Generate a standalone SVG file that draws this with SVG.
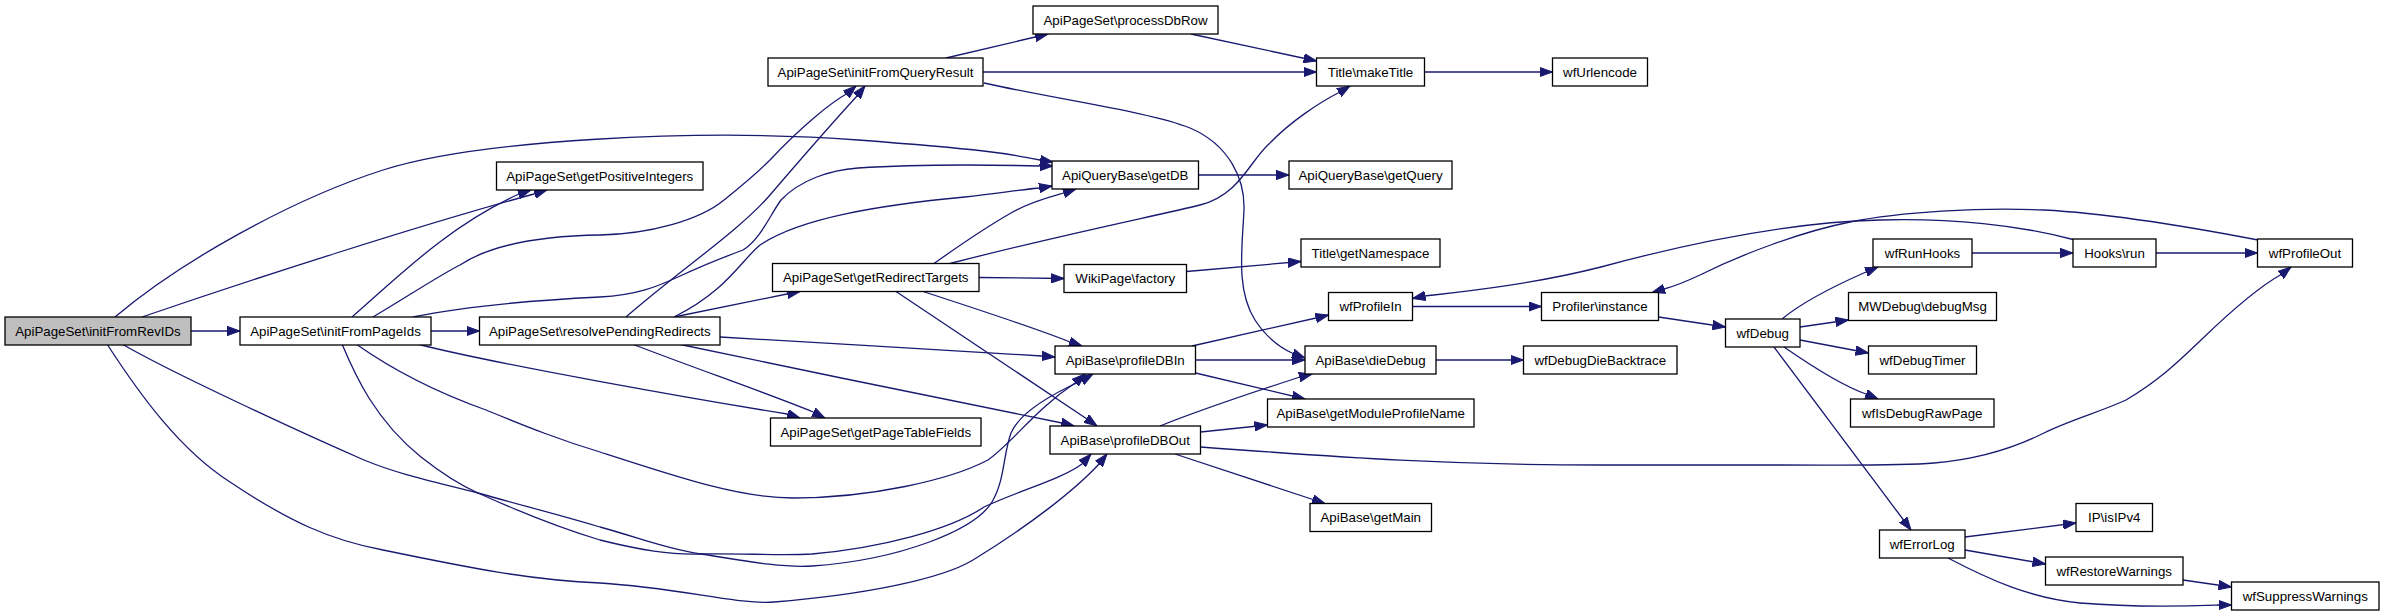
<svg xmlns="http://www.w3.org/2000/svg" width="2384" height="616" viewBox="0 0 2384 616">
<style>
.n rect{fill:#fff;stroke:#000;stroke-width:1.3}
.n.root rect{fill:#bfbfbf}
.n text{font-family:"Liberation Sans",Arial,sans-serif;font-size:13.3px;text-anchor:middle;fill:#000}
.e path{fill:none;stroke:#191970;stroke-width:1.3;marker-end:url(#a)}
</style>
<defs>
<marker id="a" markerUnits="userSpaceOnUse" markerWidth="14" markerHeight="10" refX="13" refY="5" orient="auto" viewBox="0 0 14 10">
<path d="M0,0.3 L13,5 L0,9.7 z" fill="#191970" stroke="#191970" stroke-width="1"/>
</marker>
</defs>
<rect width="2384" height="616" fill="#fff"/>
<g id="edges" class="e">
<path d="M191,331 L240,331"/>
<path d="M142,317 C250,280 420,225 534,194 L547,190"/>
<path d="M115,317 C180,262 290,200 383,170 S700,128 858,140 S1010,155 1040,160 L1053,162"/>
<path d="M122,344 C170,372 300,432 364,460 C400,475 440,483 478,493 C520,505 560,515 600,527 C640,538 670,550 701,554 C740,560 780,568 812,566 C900,560 975,530 992,502 C1005,480 1003,455 1011,433 C1020,412 1050,395 1081,381 L1093,374"/>
<path d="M107,344 C140,395 180,450 230,482 C290,522 330,540 383,550 C470,568 530,580 600,583 C680,588 740,605 774,602 C860,595 940,580 973,560 C1030,525 1075,490 1099,464 L1107,454"/>
<path d="M431,331 L479.5,331"/>
<path d="M352,317 C400,275 450,225 519,194 L531,190"/>
<path d="M373,317 C410,295 440,275 460,265 C490,245 540,236 600,235 C650,234 700,220 724,200 C745,183 755,175 770,160 C800,128 830,103 848,93 L856,86"/>
<path d="M413,317 C470,305 540,300 600,297 C640,295 660,285 678,277 C710,262 730,255 743,250 C760,240 770,215 781,200 C800,180 830,170 858,168 C920,164 1000,165 1040,166 L1053,166"/>
<path d="M417,344 C500,365 700,400 787,414 L800,418"/>
<path d="M356,344 C390,368 430,390 486,410 C530,428 560,440 600,452 C680,478 740,498 793,498 C870,498 950,480 988,460 C1015,440 1035,410 1075,383 L1085,374"/>
<path d="M342,344 C355,375 375,420 421,457 C440,472 460,485 478,493 C520,512 560,528 600,540 C640,550 670,555 701,554 C740,553 780,556 812,554 C880,548 950,530 984,507 C1020,490 1060,480 1082,464 L1091,454"/>
<path d="M626,317 C680,270 740,230 770,195 C800,160 835,120 857,96 L865,86"/>
<path d="M674,317 C725,292 740,262 760,245 C800,218 880,205 965,197 C1000,193 1025,189 1040,188 L1052,186"/>
<path d="M674,317 L787,294 L800,291.5"/>
<path d="M720,337 C820,343 950,350 1042,356 L1055,357"/>
<path d="M678,344 C800,370 950,400 1062,423 L1074,426"/>
<path d="M632,344 C700,370 780,398 813,412 L825,418"/>
<path d="M979,277.5 L1064,278.5"/>
<path d="M934,263.5 C960,245 990,225 1011,213 C1030,202 1050,197 1064,193 L1076,189"/>
<path d="M950,263.5 C1060,235 1160,215 1200,205 C1240,195 1250,160 1270,143 C1290,122 1320,102 1340,92 L1350,86"/>
<path d="M923,291.5 C980,310 1040,330 1070,342 L1082,346"/>
<path d="M896,291.5 L1087,419 L1097,426"/>
<path d="M946,58 L1048,34"/>
<path d="M983,72 L1316.5,72"/>
<path d="M984,83 C1060,100 1150,112 1190,128 C1230,145 1245,180 1244,210 C1242,250 1236,290 1255,320 C1268,340 1285,350 1294,354 L1305,358"/>
<path d="M1191,34 L1316.5,61"/>
<path d="M1424.5,72 L1552.5,72"/>
<path d="M1198.5,175 L1289,175"/>
<path d="M1186.5,271.5 L1301,261.5"/>
<path d="M1192,346 L1316,318 L1328.5,315"/>
<path d="M1195.5,360 L1305,360"/>
<path d="M1195.5,373 L1305,399"/>
<path d="M1160,426 C1200,410 1260,390 1300,377 L1312,374"/>
<path d="M1200.5,432 L1267.5,425"/>
<path d="M1175,454 L1325,503.5"/>
<path d="M1200.5,447 C1350,458 1450,465 1600,465 L1780,465 C1850,465 1900,466 1934,463 C1970,460 2010,450 2044,433 C2070,420 2100,412 2126,400 C2160,380 2180,360 2201,340 C2230,312 2262,285 2282,274 L2291,267"/>
<path d="M1436,360 L1523.5,360"/>
<path d="M1412.5,306.5 L1541.5,306.5"/>
<path d="M1658.5,317 L1725.5,327"/>
<path d="M1782,319 C1800,304 1825,290 1866,272 L1878,267"/>
<path d="M1800,327 L1848.5,320"/>
<path d="M1800,340 L1868.5,353"/>
<path d="M1784,347 C1810,365 1840,385 1866,394 L1878,399"/>
<path d="M1774,347 L1911,530"/>
<path d="M1972,253 L2073,253"/>
<path d="M2156,253 L2257.5,253"/>
<path d="M2075,240 C2020,225 1950,218 1880,220 C1800,222 1700,240 1601,267 C1530,285 1460,292 1425,296 L1412.5,298.5"/>
<path d="M2258,240 C2180,225 2100,213 2044,210 C1980,207 1900,212 1850,222 C1800,232 1740,255 1700,275 C1685,282 1672,287 1664,289 L1652,292.5"/>
<path d="M1965,537 L2076,523"/>
<path d="M1965,550 L2045.5,564"/>
<path d="M1948,558 C1990,580 2030,598 2080,603 C2140,608 2190,606 2218,605 L2231.5,605"/>
<path d="M2183,580 L2231.5,587"/>
</g>
<g id="n0" class="n root"><rect x="5" y="317" width="186" height="28"/><text x="98" y="335.5">ApiPageSet\initFromRevIDs</text></g>
<g id="n1" class="n"><rect x="240" y="317" width="191" height="28"/><text x="335.5" y="335.5">ApiPageSet\initFromPageIds</text></g>
<g id="n2" class="n"><rect x="479.5" y="317" width="240.5" height="28"/><text x="599.75" y="335.5">ApiPageSet\resolvePendingRedirects</text></g>
<g id="n3" class="n"><rect x="496.5" y="162" width="206.5" height="28"/><text x="599.75" y="180.5">ApiPageSet\getPositiveIntegers</text></g>
<g id="n4" class="n"><rect x="768" y="58" width="215" height="28"/><text x="875.5" y="76.5">ApiPageSet\initFromQueryResult</text></g>
<g id="n5" class="n"><rect x="1033" y="6" width="185" height="28"/><text x="1125.5" y="24.5">ApiPageSet\processDbRow</text></g>
<g id="n6" class="n"><rect x="1316.5" y="58" width="108" height="28"/><text x="1370.5" y="76.5">Title\makeTitle</text></g>
<g id="n7" class="n"><rect x="1552.5" y="58" width="95" height="28"/><text x="1600" y="76.5">wfUrlencode</text></g>
<g id="n8" class="n"><rect x="1052" y="161" width="146.5" height="28"/><text x="1125.25" y="179.5">ApiQueryBase\getDB</text></g>
<g id="n9" class="n"><rect x="1289" y="161" width="163" height="28"/><text x="1370.5" y="179.5">ApiQueryBase\getQuery</text></g>
<g id="n10" class="n"><rect x="772.5" y="263.5" width="206.5" height="28"/><text x="875.75" y="282">ApiPageSet\getRedirectTargets</text></g>
<g id="n11" class="n"><rect x="1064" y="264.5" width="122.5" height="28"/><text x="1125.25" y="283">WikiPage\factory</text></g>
<g id="n12" class="n"><rect x="1301" y="239" width="139" height="28"/><text x="1370.5" y="257.5">Title\getNamespace</text></g>
<g id="n13" class="n"><rect x="1328.5" y="292.5" width="84" height="28"/><text x="1370.5" y="311">wfProfileIn</text></g>
<g id="n14" class="n"><rect x="1541.5" y="292.5" width="117" height="28"/><text x="1600" y="311">Profiler\instance</text></g>
<g id="n15" class="n"><rect x="1725.5" y="319" width="74.5" height="28"/><text x="1762.75" y="337.5">wfDebug</text></g>
<g id="n16" class="n"><rect x="1055" y="346" width="140.5" height="28"/><text x="1125.25" y="364.5">ApiBase\profileDBIn</text></g>
<g id="n17" class="n"><rect x="1305" y="346" width="131" height="28"/><text x="1370.5" y="364.5">ApiBase\dieDebug</text></g>
<g id="n18" class="n"><rect x="1523.5" y="346" width="153.5" height="28"/><text x="1600.25" y="364.5">wfDebugDieBacktrace</text></g>
<g id="n19" class="n"><rect x="1267.5" y="399" width="206.5" height="28"/><text x="1370.75" y="417.5">ApiBase\getModuleProfileName</text></g>
<g id="n20" class="n"><rect x="1050" y="426" width="150.5" height="28"/><text x="1125.25" y="444.5">ApiBase\profileDBOut</text></g>
<g id="n21" class="n"><rect x="770.5" y="418" width="210.5" height="28"/><text x="875.75" y="436.5">ApiPageSet\getPageTableFields</text></g>
<g id="n22" class="n"><rect x="1310" y="503.5" width="121.5" height="28"/><text x="1370.75" y="522">ApiBase\getMain</text></g>
<g id="n23" class="n"><rect x="1873" y="239" width="99" height="28"/><text x="1922.5" y="257.5">wfRunHooks</text></g>
<g id="n24" class="n"><rect x="2073" y="239" width="83" height="28"/><text x="2114.5" y="257.5">Hooks\run</text></g>
<g id="n25" class="n"><rect x="2257.5" y="239" width="95" height="28"/><text x="2305" y="257.5">wfProfileOut</text></g>
<g id="n26" class="n"><rect x="1848.5" y="292.5" width="148" height="28"/><text x="1922.5" y="311">MWDebug\debugMsg</text></g>
<g id="n27" class="n"><rect x="1868.5" y="346" width="108" height="28"/><text x="1922.5" y="364.5">wfDebugTimer</text></g>
<g id="n28" class="n"><rect x="1850.5" y="399" width="143.5" height="28"/><text x="1922.25" y="417.5">wfIsDebugRawPage</text></g>
<g id="n29" class="n"><rect x="1879.5" y="530" width="85.5" height="28"/><text x="1922.25" y="548.5">wfErrorLog</text></g>
<g id="n30" class="n"><rect x="2076" y="503.5" width="76.5" height="28"/><text x="2114.25" y="522">IP\isIPv4</text></g>
<g id="n31" class="n"><rect x="2045.5" y="557" width="137.5" height="28"/><text x="2114.25" y="575.5">wfRestoreWarnings</text></g>
<g id="n32" class="n"><rect x="2231.5" y="582" width="147.5" height="28"/><text x="2305.25" y="600.5">wfSuppressWarnings</text></g>
</svg>
